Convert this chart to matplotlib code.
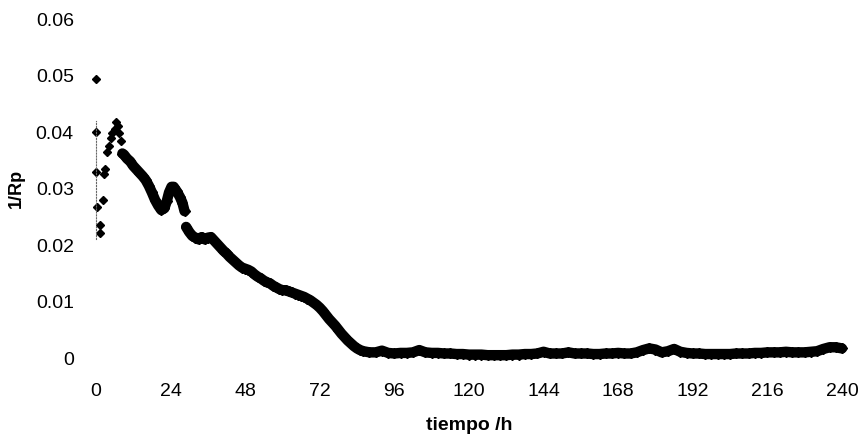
import matplotlib.pyplot as plt

plt.rcParams['font.family'] = ['Liberation Sans', 'DejaVu Sans']

# first hours: scattered readings
t_start = [0, 0, 0, 0.3, 1.3, 1.3, 2.2, 2.5, 3.0, 3.7, 4.2, 4.8, 5.3, 6.0, 6.4, 7.0, 7.5, 8.0]
rp_start = [49.4, 40.0, 33.0, 26.8, 23.6, 22.2, 27.9, 32.5, 33.5, 36.5, 37.5, 39.0, 39.8, 40.5, 41.8, 41.0, 39.8, 38.5]

# decay up to the 28 h jump
t_a = [8.5, 9, 10, 11, 12, 13, 14, 15, 16, 17, 18, 19, 20, 21, 22, 22.8, 23.5, 24.3, 25, 26, 27, 27.8, 28.5]
rp_a = [36.2, 36.0, 35.3, 34.8, 34.0, 33.4, 32.8, 32.2, 31.5, 30.5, 29.3, 28.0, 27.0, 26.2, 26.5, 27.8, 29.3,
        30.3, 30.3, 29.5, 28.5, 27.5, 26.0]

# from the jump down to ~86 h
t_b = [29, 30, 31, 32, 33, 34, 35, 36, 37, 38, 39, 40, 41, 42, 43, 44, 45, 46, 47, 48, 49, 50, 51, 52, 53,
       54, 55, 56, 57, 58, 59, 60, 61, 62, 63, 64, 65, 66, 67, 68, 69, 70, 71, 72, 73, 74, 75, 76, 77, 78,
       79, 80, 81, 82, 83, 84, 85]
rp_b = [23.2, 22.3, 21.6, 21.3, 21.0, 21.4, 21.0, 21.3, 21.4, 20.8, 20.2, 19.6, 19.0, 18.5, 17.9, 17.4, 16.9,
        16.4, 16.0, 15.8, 15.6, 15.3, 14.8, 14.4, 14.1, 13.7, 13.4, 13.2, 12.8, 12.5, 12.2, 12.0, 12.0, 11.8,
        11.6, 11.4, 11.2, 11.0, 10.8, 10.5, 10.2, 9.8, 9.4, 8.9, 8.3, 7.6, 6.9, 6.3, 5.7, 5.0, 4.3, 3.7, 3.1,
        2.6, 2.1, 1.7, 1.4]

# plateau
t_end = list(range(86, 241, 2))
rp_end = [1.2, 1.0, 1.0, 1.3, 0.9, 0.8, 0.9, 0.9, 1.0, 1.4, 1.0, 0.9, 0.9, 0.8, 0.8, 0.7, 0.7, 0.6, 0.6, 0.6,
          0.5, 0.5, 0.5, 0.5, 0.6, 0.6, 0.7, 0.7, 0.8, 1.1, 0.8, 0.8, 0.8, 1.0, 0.8, 0.8, 0.8, 0.7, 0.7, 0.8,
          0.8, 0.9, 0.8, 0.8, 1.0, 1.4, 1.7, 1.5, 1.0, 1.2, 1.6, 1.1, 0.9, 0.8, 0.8, 0.7, 0.7, 0.7, 0.7, 0.7,
          0.8, 0.8, 0.8, 0.9, 0.9, 1.0, 1.0, 1.0, 1.1, 1.0, 1.0, 1.0, 1.1, 1.2, 1.6, 1.9, 1.9, 1.7]

x_ticks = [0, 24, 48, 72, 96, 120, 144, 168, 192, 216, 240]
y_ticks = [0, 0.01, 0.02, 0.03, 0.04, 0.05, 0.06]
y_labels = ['0', '0.01', '0.02', '0.03', '0.04', '0.05', '0.06']

fig = plt.figure(figsize=(8.67, 4.34), dpi=100)
ax = fig.add_axes([0.1107, 0.1751, 0.8604, 0.781])

# dense logging shows up as a thick band
for tt, vv in [(t_a, rp_a), (t_b + t_end, rp_b + rp_end)]:
    vv = [v / 1000 for v in vv]
    ax.plot(tt, vv, '-', color='black', lw=7.5, solid_capstyle='round', solid_joinstyle='round', clip_on=False)
    ax.plot(tt, vv, 'D', color='black', markersize=5.5, linestyle='none', clip_on=False)
ax.plot(t_start, [v / 1000 for v in rp_start], 'D', color='black', markersize=4.5, linestyle='none', clip_on=False)

ax.set_xlim(0, 240)
ax.set_ylim(0, 0.06)
ax.set_xticks(x_ticks)
ax.set_xticklabels([str(v) for v in x_ticks])
ax.set_yticks(y_ticks)
ax.set_yticklabels(y_labels)
ax.tick_params(axis='both', length=0, labelsize=14)
ax.tick_params(axis='y', pad=16)
ax.tick_params(axis='x', pad=18)

for side in ['top', 'right', 'bottom']:
    ax.spines[side].set_visible(False)
ax.spines['left'].set_bounds(0.021, 0.042)
ax.spines['left'].set_linestyle(':')
ax.spines['left'].set_color('0.4')
ax.spines['left'].set_linewidth(0.8)

ax.set_xlabel('tiempo /h', fontsize=14, fontweight='bold', labelpad=12)
ax.set_ylabel('1/Rp', fontsize=13, fontweight='bold', labelpad=8)

fig.savefig('out.png', dpi=100, facecolor='white')
